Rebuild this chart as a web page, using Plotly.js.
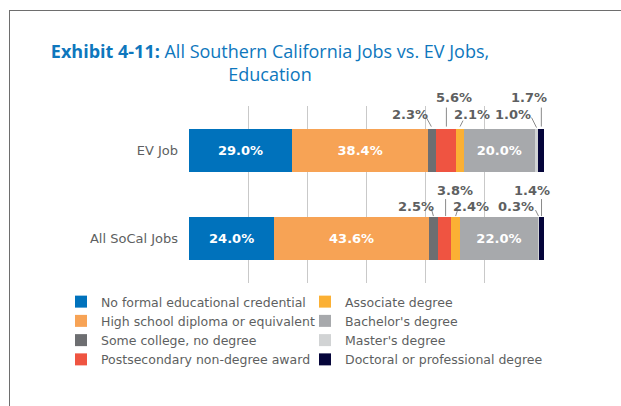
<!DOCTYPE html>
<html><head><meta charset="utf-8">
<script src="https://cdn.plot.ly/plotly-3.0.1.min.js"></script>
<style>
html,body{margin:0;padding:0;background:#fff;overflow:hidden;}
#chart{width:621px;height:406px;}
#frame{position:absolute;left:9px;top:10px;width:700px;height:500px;border-left:1.5px solid #6e6e6e;border-top:1.5px solid #6e6e6e;pointer-events:none;}
</style>
</head><body>
<div id="chart"></div><div id="frame"></div>
<script>
// ---- data ----
const categories = ['All SoCal Jobs', 'EV Job'];
const seriesNames = [
  'No formal educational credential',
  'High school diploma or equivalent',
  'Some college, no degree',
  'Postsecondary non-degree award',
  'Associate degree',
  "Bachelor's degree",
  "Master's degree",
  'Doctoral or professional degree'
];
const noFormal      = [24.0, 29.0];
const highSchool    = [43.6, 38.4];
const someCollege   = [2.5, 2.3];
const postsecondary = [3.8, 5.6];
const associate     = [2.4, 2.1];
const bachelors     = [22.0, 20.0];
const masters       = [0.3, 1.0];
const doctoral      = [1.4, 1.7];
const seriesValues = [noFormal, highSchool, someCollege, postsecondary, associate, bachelors, masters, doctoral];

// ---- styles ----
const colors = ['#0072BC', '#F7A355', '#6D6E71', '#EF5441', '#FBB034', '#A7A9AC', '#D1D3D4', '#05053A'];
const TITLE_FONT = 'Open Sans, sans-serif';
const FONT = 'DejaVu Sans, sans-serif';
const GREY = '#5E5F61';
const legendOf = [ 'legend', 'legend', 'legend', 'legend', 'legend2', 'legend2', 'legend2', 'legend2'];
const BAR_W = 0.49;

// outside label placement (pixel offsets from segment centre / bar top), per category index
// [labelDx, labelDy, lineX0, lineY0, lineX1, lineY1]
const outside = {
  2: [[-17, 11, -2, 8, 0, 1], [-22, 14, -6, 11, -1, 2]],
  3: [[10, 27, 1, 1, 1, 18], [8, 31, 0, 2, 0, 21]],
  4: [[15, 11, 2, 7, 0, 1], [12, 14, 3, 8, 0, 2]],
  6: [[-23, 11, -3, 7, 0, 1], [-24, 14, -5, 11, 0, 1]],
  7: [[-10, 27, 0, 1, 0, 18], [-12, 31, 0, 2, 0, 21]]
};

const traces = seriesValues.map((vals, i) => ({
  type: 'bar',
  orientation: 'h',
  name: seriesNames[i],
  y: categories,
  x: vals,
  width: BAR_W,
  marker: {color: colors[i], line: {width: 0}},
  text: vals.map(v => v >= 10 ? v.toFixed(1) + '%' : ''),
  textposition: 'inside',
  insidetextanchor: 'middle',
  textfont: {family: FONT, size: 13, color: '#ffffff', weight: 700},
  hoverinfo: 'none',
  legend: legendOf[i]
}));

// cumulative positions for outside labels
const annotations = [];
const shapes = [];
categories.forEach((cat, ci) => {
  let cum = 0;
  seriesValues.forEach((vals, si) => {
    const start = cum;
    cum += vals[ci];
    const cfg = outside[si];
    if (!cfg) return;
    const c = cfg[ci];
    const mid = (start + cum) / 2;
    const top = ci + BAR_W / 2;
    annotations.push({
      x: mid, y: top, xref: 'x', yref: 'y',
      xshift: c[0], yshift: c[1],
      text: vals[ci].toFixed(1) + '%',
      showarrow: false, xanchor: 'center', yanchor: 'middle',
      font: {family: FONT, size: 13, color: GREY, weight: 700}
    });
    shapes.push({
      type: 'line', xref: 'x', yref: 'y',
      xsizemode: 'pixel', ysizemode: 'pixel',
      xanchor: mid, yanchor: top,
      x0: c[2], y0: c[3], x1: c[4], y1: c[5],
      line: {color: '#8a8a8a', width: 1}
    });
  });
});

const legendCommon = {
  orientation: 'v', xref: 'container', yref: 'container',
  xanchor: 'left', yanchor: 'top',
  font: {family: FONT, size: 12.5, color: GREY},
  bgcolor: 'rgba(0,0,0,0)', tracegroupgap: 0, traceorder: 'normal'
};

const layout = {
  width: 621, height: 406,
  margin: {l: 189, r: 77, t: 106, b: 123, pad: 0, autoexpand: false},
  paper_bgcolor: '#ffffff', plot_bgcolor: '#ffffff',
  barmode: 'stack',
  font: {family: FONT, color: GREY},
  title: {
    text: '<b>Exhibit 4-11:</b> All Southern California Jobs vs. EV Jobs,<br>Education',
    font: {family: TITLE_FONT, size: 18, color: '#0E77BD'},
    xref: 'container', x: 270 / 621, xanchor: 'center',
    yref: 'container', y: 1 - 58 / 406, yanchor: 'top'
  },
  xaxis: {
    range: [0, 100],
    tickvals: [0, 100/6, 200/6, 50, 400/6, 500/6, 100],
    showticklabels: false, ticks: '',
    showgrid: true, gridcolor: '#C9C9C9', gridwidth: 1,
    zeroline: false, showline: false, fixedrange: true
  },
  yaxis: {
    type: 'category', categoryorder: 'array', categoryarray: categories,
    range: [-0.5, 1.5],
    showgrid: false, zeroline: false, showline: false, ticks: '',
    ticklabelstandoff: 10,
    tickfont: {family: FONT, size: 13, color: GREY},
    fixedrange: true
  },
  legend2: Object.assign({}, legendCommon, {x: 305 / 621, y: 1 - 287 / 406}),
  legend: Object.assign({}, legendCommon, {x: 61 / 621, y: 1 - 287 / 406}),
  annotations: annotations,
  shapes: shapes,
  showlegend: true
};

Plotly.newPlot('chart', traces, layout, {staticPlot: true, displayModeBar: false});
</script>
</body></html>
